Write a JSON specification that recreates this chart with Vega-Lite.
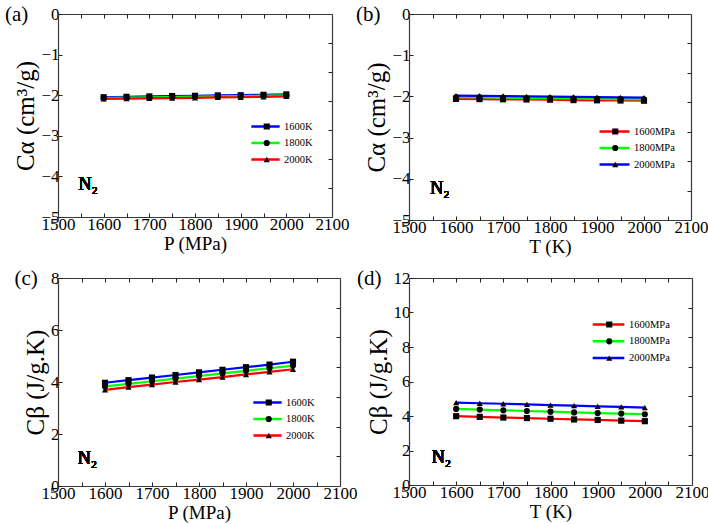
{
  "$schema": "https://vega.github.io/schema/vega-lite/v6.json",
  "padding": {"left": 4, "top": 4, "right": 0, "bottom": 2},
  "background": "white",
  "datasets": {
    "a": [
      {"x": 1600, "series": "1600K", "v": -2.05}, {"x": 1650, "series": "1600K", "v": -2.04}, {"x": 1700, "series": "1600K", "v": -2.03},
      {"x": 1750, "series": "1600K", "v": -2.02}, {"x": 1800, "series": "1600K", "v": -2.015}, {"x": 1850, "series": "1600K", "v": -2.005},
      {"x": 1900, "series": "1600K", "v": -2.0}, {"x": 1950, "series": "1600K", "v": -1.99}, {"x": 2000, "series": "1600K", "v": -1.98},
      {"x": 1600, "series": "1800K", "v": -2.07}, {"x": 1650, "series": "1800K", "v": -2.06}, {"x": 1700, "series": "1800K", "v": -2.05},
      {"x": 1750, "series": "1800K", "v": -2.045}, {"x": 1800, "series": "1800K", "v": -2.035}, {"x": 1850, "series": "1800K", "v": -2.03},
      {"x": 1900, "series": "1800K", "v": -2.02}, {"x": 1950, "series": "1800K", "v": -2.01}, {"x": 2000, "series": "1800K", "v": -2.005},
      {"x": 1600, "series": "2000K", "v": -2.09}, {"x": 1650, "series": "2000K", "v": -2.085}, {"x": 1700, "series": "2000K", "v": -2.08},
      {"x": 1750, "series": "2000K", "v": -2.07}, {"x": 1800, "series": "2000K", "v": -2.065}, {"x": 1850, "series": "2000K", "v": -2.055},
      {"x": 1900, "series": "2000K", "v": -2.05}, {"x": 1950, "series": "2000K", "v": -2.04}, {"x": 2000, "series": "2000K", "v": -2.03}
    ],
    "b": [
      {"x": 1600, "series": "1600MPa", "v": -2.06}, {"x": 1650, "series": "1600MPa", "v": -2.065}, {"x": 1700, "series": "1600MPa", "v": -2.07},
      {"x": 1750, "series": "1600MPa", "v": -2.075}, {"x": 1800, "series": "1600MPa", "v": -2.08}, {"x": 1850, "series": "1600MPa", "v": -2.09},
      {"x": 1900, "series": "1600MPa", "v": -2.095}, {"x": 1950, "series": "1600MPa", "v": -2.1}, {"x": 2000, "series": "1600MPa", "v": -2.105},
      {"x": 1600, "series": "1800MPa", "v": -2.02}, {"x": 1650, "series": "1800MPa", "v": -2.025}, {"x": 1700, "series": "1800MPa", "v": -2.03},
      {"x": 1750, "series": "1800MPa", "v": -2.04}, {"x": 1800, "series": "1800MPa", "v": -2.045}, {"x": 1850, "series": "1800MPa", "v": -2.05},
      {"x": 1900, "series": "1800MPa", "v": -2.06}, {"x": 1950, "series": "1800MPa", "v": -2.065}, {"x": 2000, "series": "1800MPa", "v": -2.07},
      {"x": 1600, "series": "2000MPa", "v": -1.98}, {"x": 1650, "series": "2000MPa", "v": -1.985}, {"x": 1700, "series": "2000MPa", "v": -1.99},
      {"x": 1750, "series": "2000MPa", "v": -2.0}, {"x": 1800, "series": "2000MPa", "v": -2.005}, {"x": 1850, "series": "2000MPa", "v": -2.01},
      {"x": 1900, "series": "2000MPa", "v": -2.02}, {"x": 1950, "series": "2000MPa", "v": -2.025}, {"x": 2000, "series": "2000MPa", "v": -2.03}
    ],
    "c": [
      {"x": 1600, "series": "1600K", "v": 3.97}, {"x": 1650, "series": "1600K", "v": 4.07}, {"x": 1700, "series": "1600K", "v": 4.17},
      {"x": 1750, "series": "1600K", "v": 4.27}, {"x": 1800, "series": "1600K", "v": 4.37}, {"x": 1850, "series": "1600K", "v": 4.47},
      {"x": 1900, "series": "1600K", "v": 4.57}, {"x": 1950, "series": "1600K", "v": 4.67}, {"x": 2000, "series": "1600K", "v": 4.78},
      {"x": 1600, "series": "1800K", "v": 3.83}, {"x": 1650, "series": "1800K", "v": 3.93}, {"x": 1700, "series": "1800K", "v": 4.03},
      {"x": 1750, "series": "1800K", "v": 4.13}, {"x": 1800, "series": "1800K", "v": 4.23}, {"x": 1850, "series": "1800K", "v": 4.33},
      {"x": 1900, "series": "1800K", "v": 4.43}, {"x": 1950, "series": "1800K", "v": 4.53}, {"x": 2000, "series": "1800K", "v": 4.63},
      {"x": 1600, "series": "2000K", "v": 3.7}, {"x": 1650, "series": "2000K", "v": 3.8}, {"x": 1700, "series": "2000K", "v": 3.9},
      {"x": 1750, "series": "2000K", "v": 4.0}, {"x": 1800, "series": "2000K", "v": 4.09}, {"x": 1850, "series": "2000K", "v": 4.19},
      {"x": 1900, "series": "2000K", "v": 4.29}, {"x": 1950, "series": "2000K", "v": 4.39}, {"x": 2000, "series": "2000K", "v": 4.49}
    ],
    "d": [
      {"x": 1600, "series": "1600MPa", "v": 3.99}, {"x": 1650, "series": "1600MPa", "v": 3.95}, {"x": 1700, "series": "1600MPa", "v": 3.91},
      {"x": 1750, "series": "1600MPa", "v": 3.88}, {"x": 1800, "series": "1600MPa", "v": 3.84}, {"x": 1850, "series": "1600MPa", "v": 3.8},
      {"x": 1900, "series": "1600MPa", "v": 3.77}, {"x": 1950, "series": "1600MPa", "v": 3.73}, {"x": 2000, "series": "1600MPa", "v": 3.7},
      {"x": 1600, "series": "1800MPa", "v": 4.41}, {"x": 1650, "series": "1800MPa", "v": 4.37}, {"x": 1700, "series": "1800MPa", "v": 4.33},
      {"x": 1750, "series": "1800MPa", "v": 4.29}, {"x": 1800, "series": "1800MPa", "v": 4.25}, {"x": 1850, "series": "1800MPa", "v": 4.21},
      {"x": 1900, "series": "1800MPa", "v": 4.17}, {"x": 1950, "series": "1800MPa", "v": 4.14}, {"x": 2000, "series": "1800MPa", "v": 4.1},
      {"x": 1600, "series": "2000MPa", "v": 4.78}, {"x": 1650, "series": "2000MPa", "v": 4.74}, {"x": 1700, "series": "2000MPa", "v": 4.71},
      {"x": 1750, "series": "2000MPa", "v": 4.67}, {"x": 1800, "series": "2000MPa", "v": 4.63}, {"x": 1850, "series": "2000MPa", "v": 4.6},
      {"x": 1900, "series": "2000MPa", "v": 4.56}, {"x": 1950, "series": "2000MPa", "v": 4.53}, {"x": 2000, "series": "2000MPa", "v": 4.49}
    ]
  },
  "resolve": {"scale": {"color": "independent", "shape": "independent"}},
  "columns": 2,
  "spacing": {"row": 12, "column": -2},
  "concat": [
    {
      "width": 274, "height": 203,
      "title": {"text": "(a)", "anchor": "start", "frame": "bounds", "offset": -20, "dx": -9},
      "data": {"name": "a"},
      "layer": [
        {
          "mark": {"type": "line", "strokeWidth": 2.2},
          "encoding": {
            "x": {"field": "x", "type": "quantitative", "scale": {"domain": [1500, 2100], "nice": false, "zero": false},
                  "axis": {"orient": "bottom", "title": "P (MPa)", "format": "d", "values": [1500, 1550, 1600, 1650, 1700, 1750, 1800, 1850, 1900, 1950, 2000, 2050, 2100], "labelExpr": "datum.value % 100 === 0 ? datum.label : ''"}},
            "y": {"field": "v", "type": "quantitative", "scale": {"domain": [-5, 0], "nice": false, "zero": false},
                  "axis": {"orient": "left", "title": "Cα (cm³/g)", "format": "d", "values": [-5, -4, -3, -2, -1, 0]}},
            "color": {"field": "series", "type": "nominal", "scale": {"domain": ["1600K", "1800K", "2000K"], "range": ["#0000ff", "#00ff00", "#ff0000"]},
                      "legend": {"orient": "none", "legendX": 192, "legendY": 105, "title": null, "symbolType": "stroke", "symbolSize": 800, "symbolStrokeWidth": 2.5, "clipHeight": 15, "rowPadding": 1.5, "labelFontSize": 10.5, "labelOffset": 3, "padding": 0}}
          }
        },
        {
          "mark": {"type": "point", "filled": true, "color": "black", "opacity": 1, "size": 38},
          "encoding": {
            "x": {"field": "x", "type": "quantitative", "axis": {"orient": "top", "title": null, "labels": false, "values": [1500, 1550, 1600, 1650, 1700, 1750, 1800, 1850, 1900, 1950, 2000, 2050, 2100]}},
            "y": {"field": "v", "type": "quantitative", "axis": {"orient": "right", "title": null, "labels": false, "values": [-4.2857, -3.5714, -2.8571, -2.1429, -1.4286, -0.7143]}},
            "shape": {"field": "series", "type": "nominal", "scale": {"range": ["square", "circle", "triangle-up"]},
                      "legend": {"orient": "none", "legendX": 203.5, "legendY": 105, "title": null, "symbolSize": 38, "symbolFillColor": "black", "symbolStrokeColor": "black", "symbolStrokeWidth": 0, "clipHeight": 15, "rowPadding": 1.5, "labelFontSize": 10.5, "labelExpr": "''", "padding": 0}}
          }
        },
        {
          "mark": {"type": "text", "text": "N₂", "fontSize": 18, "fontWeight": "normal", "align": "left", "baseline": "middle"},
          "encoding": {"x": {"datum": 1545, "type": "quantitative", "axis": null}, "y": {"datum": -4.2, "type": "quantitative", "axis": null}}
        }
      ],
      "resolve": {"axis": {"x": "independent", "y": "independent"}}
    },
    {
      "width": 282, "height": 206,
      "title": {"text": "(b)", "anchor": "start", "frame": "bounds", "offset": -20, "dx": -9},
      "data": {"name": "b"},
      "layer": [
        {
          "mark": {"type": "line", "strokeWidth": 2.2},
          "encoding": {
            "x": {"field": "x", "type": "quantitative", "scale": {"domain": [1500, 2100], "nice": false, "zero": false},
                  "axis": {"orient": "bottom", "title": "T (K)", "format": "d", "values": [1500, 1550, 1600, 1650, 1700, 1750, 1800, 1850, 1900, 1950, 2000, 2050, 2100], "labelExpr": "datum.value % 100 === 0 ? datum.label : ''"}},
            "y": {"field": "v", "type": "quantitative", "scale": {"domain": [-5, 0], "nice": false, "zero": false},
                  "axis": {"orient": "left", "title": "Cα (cm³/g)", "format": "d", "values": [-5, -4, -3, -2, -1, 0]}},
            "color": {"field": "series", "type": "nominal", "scale": {"domain": ["1600MPa", "1800MPa", "2000MPa"], "range": ["#ff0000", "#00ff00", "#0000ff"]},
                      "legend": {"orient": "none", "legendX": 189, "legendY": 110, "title": null, "symbolType": "stroke", "symbolSize": 900, "symbolStrokeWidth": 2.5, "clipHeight": 15, "rowPadding": 1.5, "labelFontSize": 10.5, "labelOffset": 3, "padding": 0}}
          }
        },
        {
          "mark": {"type": "point", "filled": true, "color": "black", "opacity": 1, "size": 38},
          "encoding": {
            "x": {"field": "x", "type": "quantitative", "axis": {"orient": "top", "title": null, "labels": false, "values": [1500, 1550, 1600, 1650, 1700, 1750, 1800, 1850, 1900, 1950, 2000, 2050, 2100]}},
            "y": {"field": "v", "type": "quantitative", "axis": {"orient": "right", "title": null, "labels": false, "values": [-4.2857, -3.5714, -2.8571, -2.1429, -1.4286, -0.7143]}},
            "shape": {"field": "series", "type": "nominal", "scale": {"range": ["square", "circle", "triangle-up"]},
                      "legend": {"orient": "none", "legendX": 201, "legendY": 110, "title": null, "symbolSize": 38, "symbolFillColor": "black", "symbolStrokeColor": "black", "symbolStrokeWidth": 0, "clipHeight": 15, "rowPadding": 1.5, "labelFontSize": 10.5, "labelExpr": "''", "padding": 0}}
          }
        },
        {
          "mark": {"type": "text", "text": "N₂", "fontSize": 18, "fontWeight": "normal", "align": "left", "baseline": "middle"},
          "encoding": {"x": {"datum": 1545, "type": "quantitative", "axis": null}, "y": {"datum": -4.25, "type": "quantitative", "axis": null}}
        }
      ],
      "resolve": {"axis": {"x": "independent", "y": "independent"}}
    },
    {
      "width": 282, "height": 208,
      "title": {"text": "(c)", "anchor": "start", "frame": "bounds", "offset": -20, "dx": -9},
      "data": {"name": "c"},
      "layer": [
        {
          "mark": {"type": "line", "strokeWidth": 2.2},
          "encoding": {
            "x": {"field": "x", "type": "quantitative", "scale": {"domain": [1500, 2100], "nice": false, "zero": false},
                  "axis": {"orient": "bottom", "title": "P (MPa)", "format": "d", "values": [1500, 1550, 1600, 1650, 1700, 1750, 1800, 1850, 1900, 1950, 2000, 2050, 2100], "labelExpr": "datum.value % 100 === 0 ? datum.label : ''"}},
            "y": {"field": "v", "type": "quantitative", "scale": {"domain": [0, 8], "nice": false, "zero": false},
                  "axis": {"orient": "left", "title": "Cβ (J/g.K)", "format": "d", "values": [0, 2, 4, 6, 8]}},
            "color": {"field": "series", "type": "nominal", "scale": {"domain": ["1600K", "1800K", "2000K"], "range": ["#0000ff", "#00ff00", "#ff0000"]},
                      "legend": {"orient": "none", "legendX": 194, "legendY": 117, "title": null, "symbolType": "stroke", "symbolSize": 800, "symbolStrokeWidth": 2.5, "clipHeight": 15, "rowPadding": 1.5, "labelFontSize": 10.5, "labelOffset": 3, "padding": 0}}
          }
        },
        {
          "mark": {"type": "point", "filled": true, "color": "black", "opacity": 1, "size": 38},
          "encoding": {
            "x": {"field": "x", "type": "quantitative", "axis": {"orient": "top", "title": null, "labels": false, "values": [1500, 1550, 1600, 1650, 1700, 1750, 1800, 1850, 1900, 1950, 2000, 2050, 2100]}},
            "y": {"field": "v", "type": "quantitative", "axis": {"orient": "right", "title": null, "labels": false, "values": [1.1429, 2.2857, 3.4286, 4.5714, 5.7143, 6.8571]}},
            "shape": {"field": "series", "type": "nominal", "scale": {"range": ["square", "circle", "triangle-up"]},
                      "legend": {"orient": "none", "legendX": 205.5, "legendY": 117, "title": null, "symbolSize": 38, "symbolFillColor": "black", "symbolStrokeColor": "black", "symbolStrokeWidth": 0, "clipHeight": 15, "rowPadding": 1.5, "labelFontSize": 10.5, "labelExpr": "''", "padding": 0}}
          }
        },
        {
          "mark": {"type": "text", "text": "N₂", "fontSize": 18, "fontWeight": "normal", "align": "left", "baseline": "middle"},
          "encoding": {"x": {"datum": 1542, "type": "quantitative", "axis": null}, "y": {"datum": 1.05, "type": "quantitative", "axis": null}}
        }
      ],
      "resolve": {"axis": {"x": "independent", "y": "independent"}}
    },
    {
      "width": 283, "height": 207,
      "title": {"text": "(d)", "anchor": "start", "frame": "bounds", "offset": -20, "dx": -9},
      "data": {"name": "d"},
      "layer": [
        {
          "mark": {"type": "line", "strokeWidth": 2.2},
          "encoding": {
            "x": {"field": "x", "type": "quantitative", "scale": {"domain": [1500, 2100], "nice": false, "zero": false},
                  "axis": {"orient": "bottom", "title": "T (K)", "format": "d", "values": [1500, 1550, 1600, 1650, 1700, 1750, 1800, 1850, 1900, 1950, 2000, 2050, 2100], "labelExpr": "datum.value % 100 === 0 ? datum.label : ''"}},
            "y": {"field": "v", "type": "quantitative", "scale": {"domain": [0, 12], "nice": false, "zero": false},
                  "axis": {"orient": "left", "title": "Cβ (J/g.K)", "format": "d", "values": [0, 2, 4, 6, 8, 10, 12]}},
            "color": {"field": "series", "type": "nominal", "scale": {"domain": ["1600MPa", "1800MPa", "2000MPa"], "range": ["#ff0000", "#00ff00", "#0000ff"]},
                      "legend": {"orient": "none", "legendX": 182, "legendY": 39, "title": null, "symbolType": "stroke", "symbolSize": 1000, "symbolStrokeWidth": 2.5, "clipHeight": 15, "rowPadding": 1.8, "labelFontSize": 10.5, "labelOffset": 3, "padding": 0}}
          }
        },
        {
          "mark": {"type": "point", "filled": true, "color": "black", "opacity": 1, "size": 38},
          "encoding": {
            "x": {"field": "x", "type": "quantitative", "axis": {"orient": "top", "title": null, "labels": false, "values": [1500, 1550, 1600, 1650, 1700, 1750, 1800, 1850, 1900, 1950, 2000, 2050, 2100]}},
            "y": {"field": "v", "type": "quantitative", "axis": {"orient": "right", "title": null, "labels": false, "values": [1.7143, 3.4286, 5.1429, 6.8571, 8.5714, 10.2857]}},
            "shape": {"field": "series", "type": "nominal", "scale": {"range": ["square", "circle", "triangle-up"]},
                      "legend": {"orient": "none", "legendX": 195, "legendY": 39, "title": null, "symbolSize": 38, "symbolFillColor": "black", "symbolStrokeColor": "black", "symbolStrokeWidth": 0, "clipHeight": 15, "rowPadding": 1.8, "labelFontSize": 10.5, "labelExpr": "''", "padding": 0}}
          }
        },
        {
          "mark": {"type": "text", "text": "N₂", "fontSize": 18, "fontWeight": "normal", "align": "left", "baseline": "middle"},
          "encoding": {"x": {"datum": 1548, "type": "quantitative", "axis": null}, "y": {"datum": 1.55, "type": "quantitative", "axis": null}}
        }
      ],
      "resolve": {"axis": {"x": "independent", "y": "independent"}}
    }
  ],
  "config": {
    "font": "Liberation Serif, Times New Roman, DejaVu Serif, serif",
    "view": {"stroke": null},
    "title": {"font": "Liberation Serif, Times New Roman, DejaVu Serif, serif", "fontSize": 21, "fontWeight": "normal", "color": "black"},
    "legend": {"labelFont": "Liberation Serif, Times New Roman, DejaVu Serif, serif", "labelColor": "black"},
    "text": {"font": "Liberation Serif, Times New Roman, DejaVu Serif, serif", "color": "black"},
    "axis": {
      "grid": false,
      "domainColor": "#3a3a3a",
      "domainWidth": 1.2,
      "tickColor": "#202020",
      "tickSize": -4,
      "tickWidth": 1,
      "labelFont": "Liberation Serif, Times New Roman, DejaVu Serif, serif",
      "labelFontSize": 17,
      "labelColor": "black",
      "labelPadding": 3,
      "labelFlush": false,
      "labelOverlap": false,
      "titleFont": "Liberation Serif, Times New Roman, DejaVu Serif, serif",
      "titleFontSize": 19,
      "titleFontWeight": "normal",
      "titleColor": "black",
      "titlePadding": 2
    },
    "axisLeft": {"titleFontSize": 25}
  }
}
